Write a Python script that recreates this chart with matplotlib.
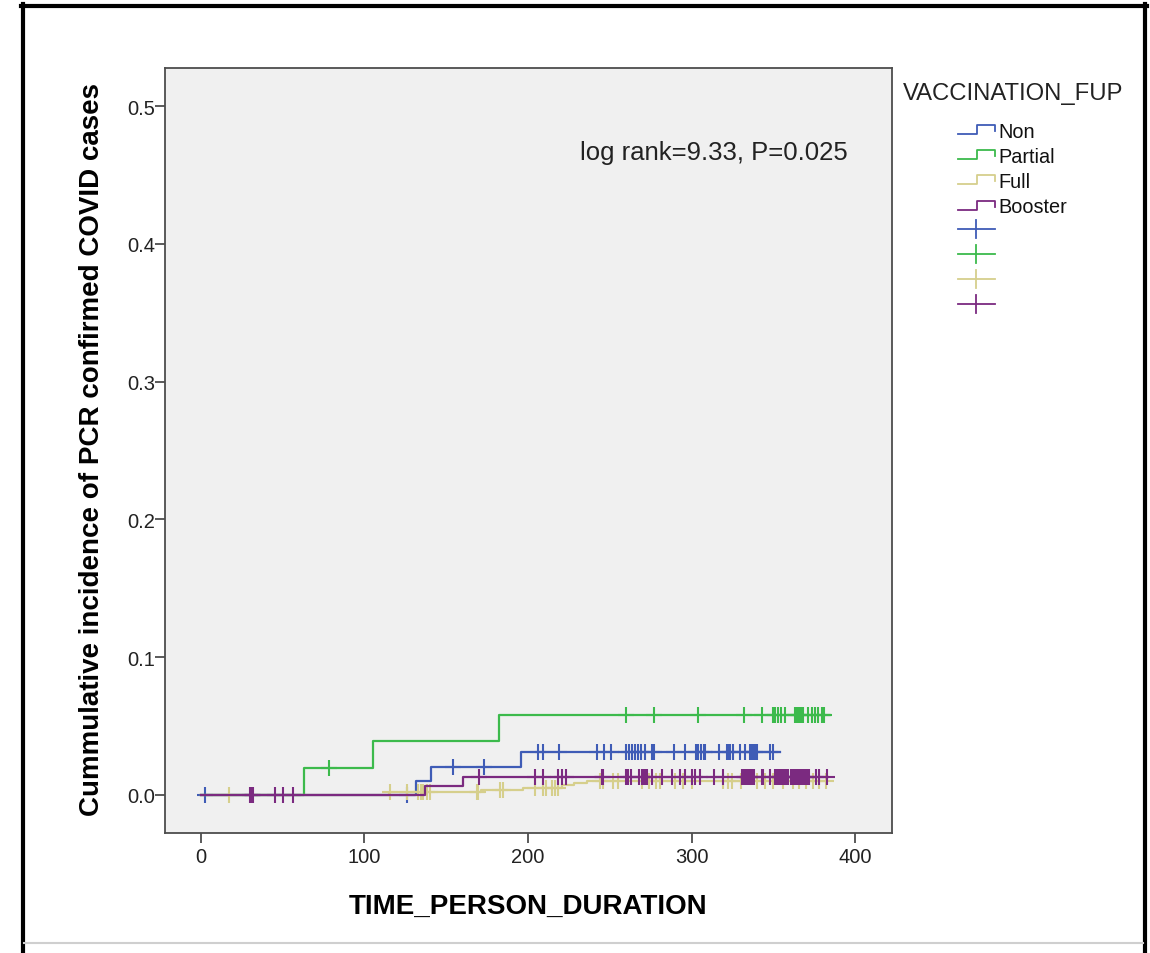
import numpy as np
import matplotlib
matplotlib.use("Agg")
import matplotlib.pyplot as plt
from matplotlib.lines import Line2D

plt.rcParams['font.family'] = ['Liberation Sans', 'DejaVu Sans']

# groups
groups = ["Non", "Partial", "Full", "Booster"]
colors = ["#3f5cb6", "#3cba4c", "#d6cf8c", "#7b2a80"]

# event times / cumulative incidence (step starts), and last follow-up time
non_t = [0, 131.5, 140.5, 196]
non_y = [0, 0.0103, 0.0201, 0.031]
non_end = 354
partial_t = [0, 63, 105.5, 182.5]
partial_y = [0, 0.0195, 0.039, 0.058]
partial_end = 384.5
full_t = [0, 115, 171, 197, 221, 228, 236]
full_y = [0, 0.0018, 0.0035, 0.005, 0.0075, 0.009, 0.0105]
full_end = 383
booster_t = [0, 137, 160.5]
booster_y = [0, 0.0063, 0.0128]
booster_end = 383.5

# censored times
non_cens = [2.5, 126, 154, 173, 206, 209, 219, 242, 246.5, 251, 260, 262, 263.5,
            265.5, 267.5, 269, 271.5, 276, 277, 289, 296, 303, 304, 305.5, 307.5,
            308.5, 317, 321.5, 322.5, 323.5, 325.5, 329.5, 332.5, 336, 337, 338,
            339, 340, 348, 350]
partial_cens = [78, 260, 277, 304, 332, 343, 350, 351, 353, 355, 357, 363, 364,
                365, 366, 367, 368, 371, 373.5, 375.5, 377.5, 379.5, 381]
full_cens = [17, 115.5, 126, 133, 134.5, 136, 138, 140, 168.5, 169.5, 183, 185,
             204, 209, 211, 214.5, 216.5, 218.5, 244, 246, 252, 255, 270, 274,
             278, 281, 290, 295, 300, 319, 322, 325, 330, 340, 345, 350, 356,
             362, 366, 370, 374, 378, 382]
booster_cens = [30, 31, 32, 45, 50, 56, 170, 204, 209, 218.5, 220.5, 223.5, 245,
                246, 260, 261, 263, 268, 270, 271, 272, 273, 276, 282, 288, 293,
                296, 300, 302, 305, 314, 319, 331, 332, 333, 334, 335, 336, 337,
                338, 343, 344, 348, 351, 352, 353, 354, 355, 356, 357, 358, 359,
                361, 362, 363, 364, 365, 366, 367, 368, 369, 370, 371, 372, 376,
                378, 383]

series = [(non_t, non_y, non_end, non_cens),
          (partial_t, partial_y, partial_end, partial_cens),
          (full_t, full_y, full_end, full_cens),
          (booster_t, booster_y, booster_end, booster_cens)]

W, H = 1150, 954
fig = plt.figure(figsize=(11.5, 9.54), dpi=100)
ax = fig.add_axes([165 / W, 1 - 834 / H, (892 - 165) / W, (834 - 69) / H])
ax.set_facecolor("#f0f0f0")


def cuminc(t, y, at):
    idx = np.searchsorted(t, at, side="right") - 1
    return np.asarray(y)[idx]


for (t, y, end, cens), c in zip(series, colors):
    ax.step(list(t) + [end], list(y) + [y[-1]], where="post", color=c, lw=1.6)
    ax.plot(cens, cuminc(t, y, cens), ls="none", marker="+", ms=11, mew=1.5,
            color=c)

ax.set_xlim(-22, 422.6)
ax.set_ylim(-0.0276, 0.5276)
ax.set_xticks([0, 100, 200, 300, 400])
ax.set_yticks([0.0, 0.1, 0.2, 0.3, 0.4, 0.5])
ax.set_yticklabels(["0.0", "0.1", "0.2", "0.3", "0.4", "0.5"])
for s in ax.spines.values():
    s.set_color("#4d4d4d")
    s.set_linewidth(1.3)
ax.tick_params(direction="out", length=7, width=1.3, color="#4d4d4d",
               labelsize=14.5, labelcolor="#222222")
ax.tick_params(axis="y", pad=0)
ax.tick_params(axis="x", pad=3)

ax.set_xlabel("TIME_PERSON_DURATION", fontsize=20, fontweight="bold")
ax.set_ylabel("Cummulative incidence of PCR confirmed COVID cases",
              fontsize=20, fontweight="bold")
ax.xaxis.set_label_coords(0.5, -0.078)
ax.yaxis.set_label_coords(-0.083, 0.502)

ax.text(395.7, 0.4666, "log rank=9.33, P=0.025", ha="right", va="center",
        fontsize=18.5, color="#222222")


# legend drawn in figure pixels
def fx(x):
    return [v / W for v in x]


def fy(y):
    return [1 - v / H for v in y]


fig.text(903 / W, 1 - 94 / H, "VACCINATION_FUP", fontsize=17.2, color="#222222",
         ha="left", va="center")
for i, (g, c) in enumerate(zip(groups, colors)):
    yc = 132 + i * 25.2
    fig.add_artist(Line2D(fx([958, 977, 977, 995, 995]),
                          fy([yc + 3, yc + 3, yc - 6, yc - 6, yc]),
                          color=c, lw=1.3, transform=fig.transFigure))
    fig.text(998 / W, 1 - yc / H, g, fontsize=14.3, ha="left", va="center",
             color="#111111")
for i, c in enumerate(colors):
    yc = 230 + i * 25
    fig.add_artist(Line2D(fx([958, 995]), fy([yc, yc]), color=c, lw=1.3,
                          transform=fig.transFigure))
    fig.add_artist(Line2D(fx([976, 976]), fy([yc - 9, yc + 9]), color=c, lw=1.3,
                          transform=fig.transFigure))

# outer frame
fig.add_artist(Line2D(fx([22.5, 22.5]), fy([5, 954]), color="black", lw=3,
                      transform=fig.transFigure))
fig.add_artist(Line2D(fx([1145, 1145]), fy([5, 954]), color="black", lw=3,
                      transform=fig.transFigure))
fig.add_artist(Line2D(fx([21, 1146.5]), fy([7, 7]), color="black", lw=3,
                      transform=fig.transFigure))
fig.add_artist(Line2D(fx([24, 1143]), fy([943.5, 943.5]), color="#cfcfcf",
                      lw=1.5, transform=fig.transFigure))

fig.savefig("out.png", dpi=100, facecolor="white")
